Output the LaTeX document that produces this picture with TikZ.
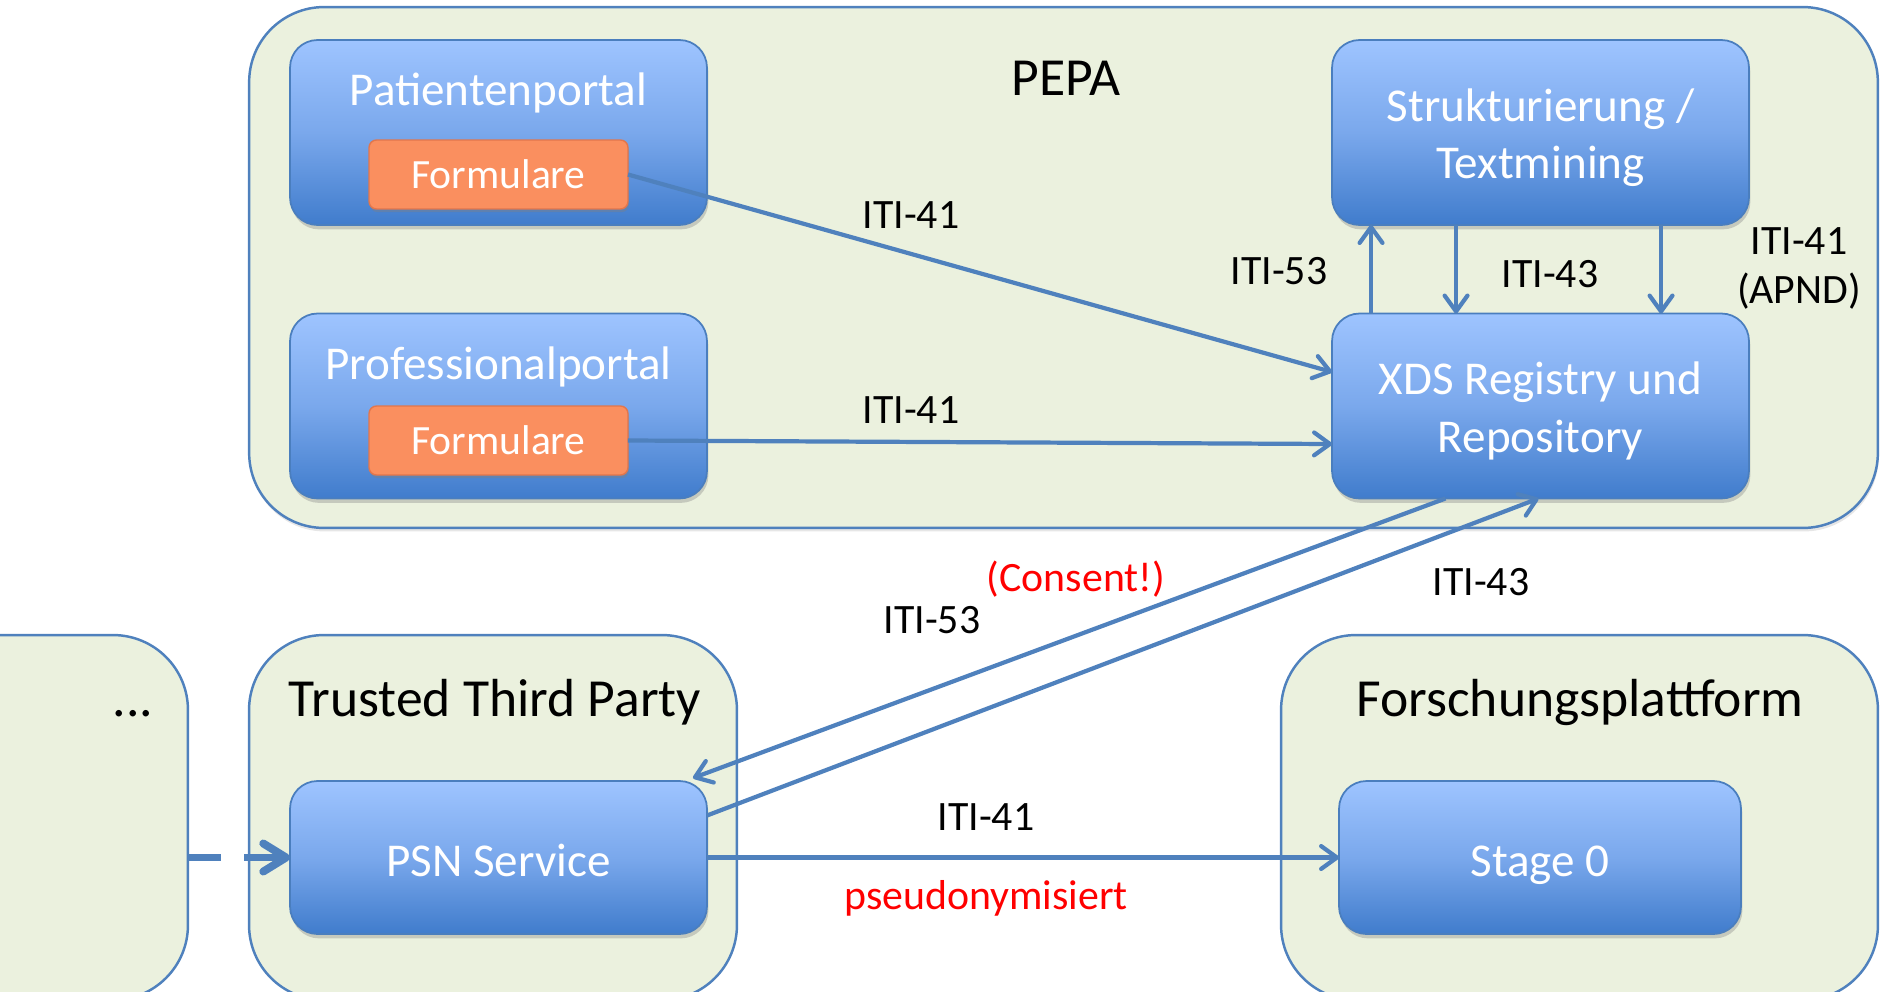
\documentclass[tikz,border=0pt]{standalone}
\usepackage{fontspec}
\setmainfont{Carlito}
\usetikzlibrary{arrows.meta,shadows,calc}
\definecolor{contfill}{RGB}{235,241,222}
\definecolor{contedge}{RGB}{79,129,189}
\definecolor{boxtop}{RGB}{158,196,255}
\definecolor{boxmid}{RGB}{122,168,236}
\definecolor{boxbot}{RGB}{64,124,204}
\definecolor{boxedge}{RGB}{74,126,190}
\definecolor{formfill}{RGB}{250,143,95}
\definecolor{formedge}{RGB}{226,118,76}
\definecolor{arrowblue}{RGB}{79,129,189}
\definecolor{labred}{RGB}{255,0,0}
\newcommand\myboxfont{\fontsize{26.8}{32.6}\selectfont}
\newcommand\mytitlefont{\fontsize{30.5}{36}\selectfont}
\newcommand\mylabfont{\fontsize{23.8}{28}\selectfont}
\newcommand\myformfont{\fontsize{23.7}{28}\selectfont}
\tikzset{
  container/.style={draw=contedge, line width=1.4pt, fill=contfill, rounded corners=1.5cm, inner sep=0pt, outer sep=0pt},
  bluebox/.style={draw=boxedge, line width=1pt, top color=boxtop, bottom color=boxbot, middle color=boxmid,
    rounded corners=0.55cm, inner sep=0pt, outer sep=0pt,
    minimum width=8.34cm, minimum height=3.7cm,
    drop shadow={shadow xshift=0.8pt, shadow yshift=-2.5pt, opacity=0.35}},
  boxlab/.style={text=white, font=\myboxfont, inner sep=0pt, align=center},
  formbox/.style={draw=formedge, line width=0.8pt, fill=formfill, rounded corners=0.15cm, inner sep=0pt, outer sep=0pt,
    minimum width=5.18cm, minimum height=1.38cm, text=white, font=\myformfont,
    drop shadow={shadow xshift=0.6pt, shadow yshift=-1.8pt, opacity=0.4}},
  flow/.style={draw=arrowblue, line width=2.4pt, -{Straight Barb[length=9pt,width=13pt,round]}},
  dashflow/.style={draw=arrowblue, line width=4.5pt, dash pattern=on 18.7pt off 13.3pt on 40pt off 1pt, -{Straight Barb[length=13pt,width=16pt,round]}},
  lab/.style={font=\mylabfont, anchor=base, inner sep=0pt},
  title/.style={font=\mytitlefont, anchor=base, inner sep=0pt}
}
\begin{document}
\begin{tikzpicture}[x=0.02cm,y=-0.02cm]
\useasboundingbox (0,0) rectangle (1880,991);
\clip (0,0) rectangle (1880,991);
% containers
\node[container, drop shadow={shadow xshift=0.5pt, shadow yshift=-2pt, opacity=0.2}, minimum width=32.58cm, minimum height=10.42cm] (pepa) at (1063.5,267.5) {};
\node[container, minimum width=6.16cm, minimum height=7.3cm] (dotsbox) at (34,817.5) {};
\node[container, minimum width=9.76cm, minimum height=7.3cm] (ttp) at (493,817.5) {};
\node[container, minimum width=11.94cm, minimum height=7.3cm] (forsch) at (1579.5,817.5) {};
% titles
\node[title] (pepalab) at (1066,95) {PEPA};
\node[title] (ttplab) at (495,716) {Trusted Third Party};
\node[title] (forschlab) at (1580,716) {Forschungsplattform};
\node[title] (dotslab) at (133,716) {...};
% boxes
\node[bluebox] (patient) at (498.5,132.5) {};
\node[boxlab, anchor=base] (patientlab) at (498.5,105) {Patientenportal};
\node[formbox] (form1) at (498.5,174.5) {Formulare};
\node[bluebox] (prof) at (498.5,406) {};
\node[boxlab, anchor=base] (proflab) at (498.5,379) {Professionalportal};
\node[formbox] (form2) at (498.5,440.5) {Formulare};
\node[bluebox] (strukt) at (1540.5,132.5) {};
\node[boxlab] (struktlab) at (1540.5,138) {Strukturierung /\\Textmining};
\node[bluebox] (xds) at (1540.5,406) {};
\node[boxlab] (xdslab) at (1540.5,411) {XDS Registry und\\Repository};
\node[bluebox, minimum height=3.06cm] (psn) at (498.5,857.5) {};
\node[boxlab, anchor=base] (psnlab) at (498.5,876) {PSN Service};
\node[bluebox, minimum width=8.04cm, minimum height=3.06cm] (stage) at (1540,857.5) {};
\node[boxlab, anchor=base] (stagelab) at (1540,876) {Stage 0};
% connectors
\draw[flow] (form1.east) -- ($(xds.west)+(0,-34)$);
\draw[flow] (form2.east) -- ($(xds.west)+(0,38)$);
\draw[flow] ($(xds.north west)+(39,0)$) -- ($(strukt.south west)+(39,0)$);
\draw[flow] ($(strukt.south west)+(124,0)$) -- ($(xds.north west)+(124,0)$);
\draw[flow] ($(strukt.south west)+(329,0)$) -- ($(xds.north west)+(329,0)$);
\draw[flow] ($(xds.south)+(-95,0)$) -- ($(psn.north east)+(-14,-3)$);
\draw[flow] ($(psn.east)+(0,-42)$) -- ($(xds.south)+(-2,0)$);
\draw[flow] (psn.east) -- (stage.west);
\draw[dashflow] (dotsbox.east |- psn.west) -- (psn.west);
% labels
\node[lab] (l1) at (911,228) {ITI-41};
\node[lab] (l2) at (911,423) {ITI-41};
\node[lab] (l3) at (1279,284) {ITI-53};
\node[lab] (l4) at (1550,287) {ITI-43};
\node[lab] (l5) at (1799,254) {ITI-41};
\node[lab] (l6) at (1799,303) {(APND)};
\node[lab] (l7) at (932,633) {ITI-53};
\node[lab, text=labred] (l8) at (1076,591) {(Consent!)};
\node[lab] (l9) at (1481,595) {ITI-43};
\node[lab] (l10) at (986,830) {ITI-41};
\node[lab, text=labred] (l11) at (986,909) {pseudonymisiert};
\end{tikzpicture}
\end{document}
